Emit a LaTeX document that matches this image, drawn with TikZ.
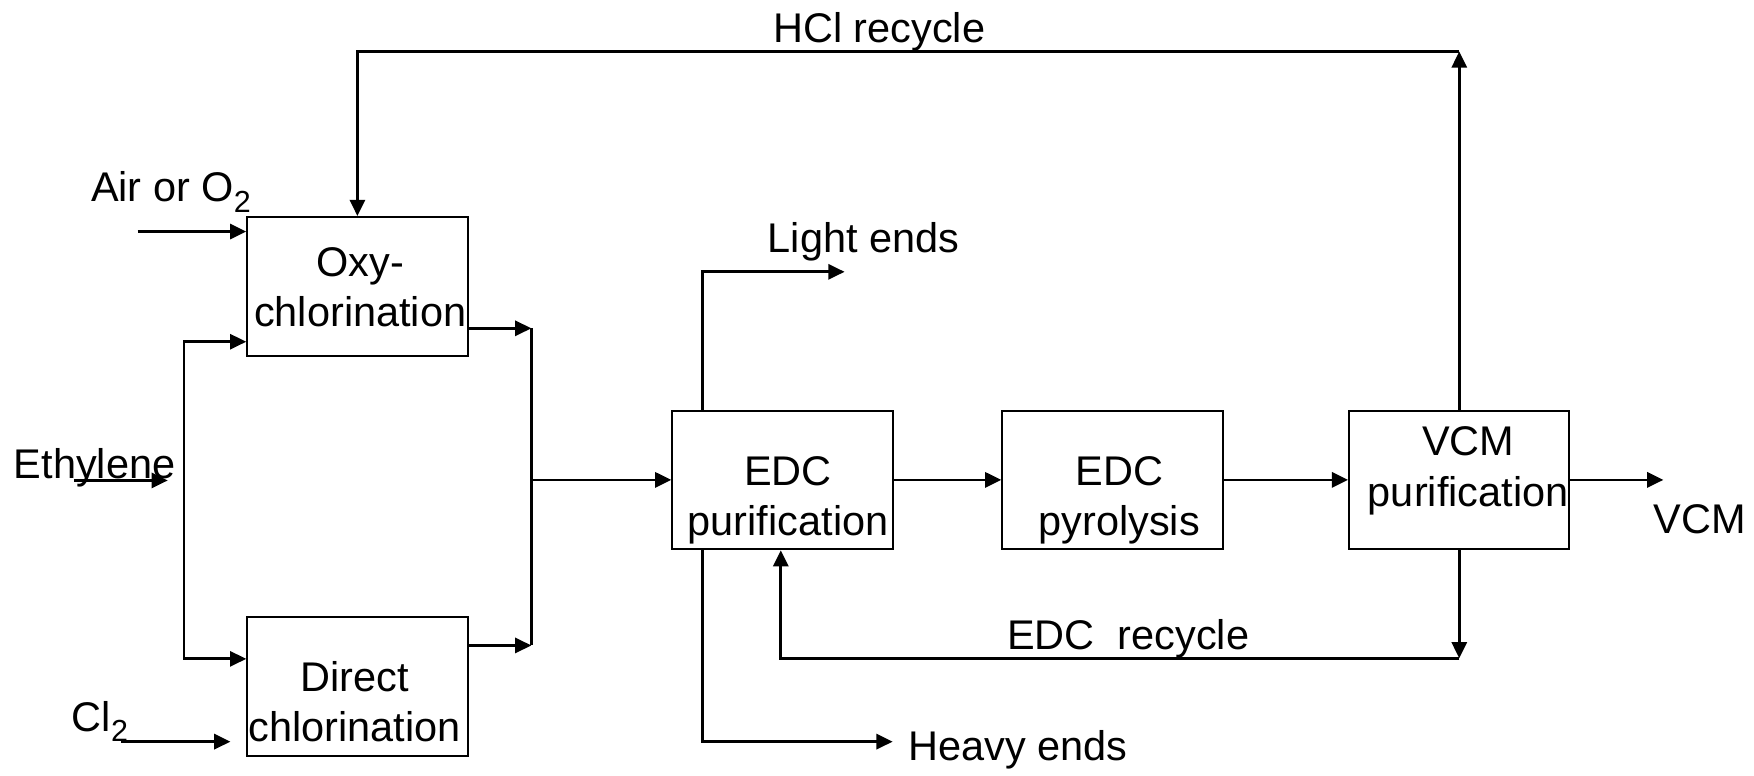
\documentclass[tikz,border=0pt]{standalone}
\usepackage{fontspec}
\setmainfont{Liberation Sans}
\usetikzlibrary{
  arrows.meta,
  positioning,
  calc
}
\tikzset{>={Triangle[length=2.9mm,width=2.7mm]}}
\tikzset{font=\fontsize{21.1}{25.6}\selectfont}
\tikzset{every node/.style={inner sep=0pt},
  unit/.style={draw=black, line width=1pt, minimum width=3.94cm, minimum height=2.48cm},
  unittext/.style={align=center},
  stream/.style={line width=1.4pt}}
\newcommand{\chemsub}[1]{\raisebox{-0.5ex}{\fontsize{15.5}{15.5}\selectfont #1}}

\begin{document}
\begin{tikzpicture}
  \useasboundingbox (0,0) rectangle (31.36,13.86);
  % process units
  \node[unit] (oxy) at (6.39,8.74) {};
  \node[unit] (direct) at (6.39,1.58) {};
  \node[unit] (edcpur) at (13.99,5.28) {};
  \node[unit] (pyro) at (19.89,5.28) {};
  \node[unit] (vcmpur) at (26.09,5.28) {};
  \node[unittext] (oxytext) at (6.44,8.72) {Oxy-\\chlorination};
  \node[unittext] (directtext) at (6.34,1.31) {Direct\\chlorination};
  \node[unittext] (edcpurtext) at (14.09,4.92) {EDC\\purification};
  \node[unittext] (pyrotext) at (20.01,4.92) {EDC\\pyrolysis};
  \node[unittext] (vcmpurtext) at (26.25,5.44) {VCM\\purification};
  % stream labels
  \node[anchor=base] (hcllabel) at (15.72,13.10) {HCl recycle};
  \node[anchor=base west] (airlabel) at (1.62,10.25) {Air or O\chemsub{2}};
  \node[anchor=base west] (ethlabel) at (0.24,5.30) {Ethylene};
  \node[anchor=base west] (cllabel) at (1.28,0.79) {Cl\chemsub{2}};
  \node[anchor=base west] (lightlabel) at (13.72,9.34) {Light ends};
  \node[anchor=base west] (heavylabel) at (16.24,0.26) {Heavy ends};
  \node[anchor=base west] (edcreclabel) at (18.0,2.24) {EDC\ \ recycle};
  \node[anchor=base west] (vcmlabel) at (29.56,4.32) {VCM};
  % bends and free ends
  \coordinate (hcl) at (26.09,12.94);
  \coordinate (airin) at (2.46,9.72);
  \coordinate (ethin) at (1.32,5.27);
  \coordinate (ethtip) at (3.0,5.27);
  \coordinate (ethtop) at (3.29,7.75);
  \coordinate (ethbot) at (3.29,2.08);
  \coordinate (clin) at (2.17,0.60);
  \coordinate (cltip) at (4.12,0.60);
  \coordinate (mixtop) at (9.50,7.99);
  \coordinate (mixbot) at (9.50,2.32);
  \coordinate (mix) at (9.50,5.28);
  \coordinate (lightup) at (12.56,9.0);
  \coordinate (lighttip) at (15.10,9.0);
  \coordinate (heavydn) at (12.56,0.60);
  \coordinate (heavytip) at (15.96,0.60);
  \coordinate (vcmout) at (29.74,5.28);
  \coordinate (edcrec) at (26.09,2.09);
  \coordinate (edcrecup) at (13.96,2.09);
  % streams
  \draw[stream,->] (vcmpur.north) -- (hcl);
  \draw[stream,->] (hcl) -- (hcl -| oxy.north) -- (oxy.north);
  \draw[stream,->] (airin) -- (airin -| oxy.west);
  \draw[stream,->] (ethin) -- (ethtip);
  \draw[stream,<->] (ethtop -| oxy.west) -- (ethtop) -- (ethbot) -- (ethbot -| direct.west);
  \draw[stream,->] (clin) -- (cltip);
  \draw[stream,->] (mixtop -| oxy.east) -- (mixtop);
  \draw[stream,->] (mixbot -| direct.east) -- (mixbot);
  \draw[stream] (mixtop) -- (mixbot);
  \draw[stream,->] (mix) -- (edcpur.west);
  \draw[stream,->] (lightup |- edcpur.north) -- (lightup) -- (lighttip);
  \draw[stream,->] (heavydn |- edcpur.south) -- (heavydn) -- (heavytip);
  \draw[stream,->] (edcpur) -- (pyro);
  \draw[stream,->] (pyro) -- (vcmpur);
  \draw[stream,->] (vcmpur) -- (vcmout);
  \draw[stream,->] (vcmpur) -- (edcrec);
  \draw[stream,->] (edcrec) -- (edcrecup) -- (edcrecup |- edcpur.south);
\end{tikzpicture}
\end{document}
